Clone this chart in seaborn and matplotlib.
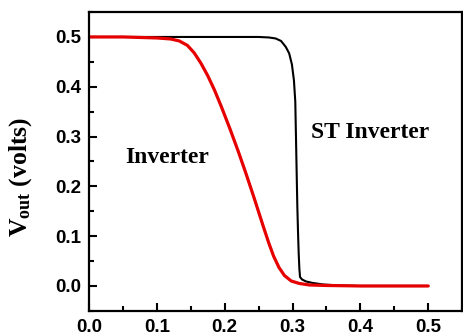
import matplotlib
matplotlib.use("Agg")
import matplotlib.pyplot as plt
from matplotlib.ticker import MultipleLocator
import seaborn as sns
import pandas as pd

# values
inv_vin = [0.00, 0.05, 0.10, 0.12, 0.133, 0.145, 0.155, 0.165, 0.175, 0.185,
           0.195, 0.207, 0.220, 0.231, 0.243, 0.256, 0.265, 0.272, 0.280,
           0.288, 0.298, 0.310, 0.325, 0.350, 0.400, 0.500]
inv_vout = [0.500, 0.500, 0.498, 0.496, 0.492, 0.483, 0.468, 0.447, 0.422, 0.393,
            0.360, 0.318, 0.270, 0.227, 0.178, 0.123, 0.086, 0.060, 0.037,
            0.021, 0.010, 0.005, 0.002, 0.001, 0.000, 0.000]

st_vin = [0.00, 0.25, 0.265, 0.275, 0.283, 0.290, 0.295, 0.299, 0.302, 0.304,
          0.305, 0.306, 0.307, 0.308, 0.309, 0.310, 0.311, 0.314, 0.320,
          0.330, 0.345, 0.37, 0.40, 0.50]
st_vout = [0.500, 0.500, 0.499, 0.497, 0.492, 0.480, 0.467, 0.445, 0.413, 0.370,
           0.300, 0.230, 0.160, 0.110, 0.066, 0.035, 0.018, 0.013, 0.009,
           0.006, 0.003, 0.001, 0.000, 0.000]

x_ticks = [0.0, 0.1, 0.2, 0.3, 0.4, 0.5]
y_ticks = [0.0, 0.1, 0.2, 0.3, 0.4, 0.5]

sns.set_style("ticks", {'axes.edgecolor': 'black', 'xtick.color': 'black',
                        'ytick.color': 'black', 'text.color': 'black',
                        'axes.labelcolor': 'black'})
plt.rcParams['font.family'] = ['Liberation Sans', 'DejaVu Sans']
plt.rcParams['mathtext.fontset'] = 'custom'
plt.rcParams['mathtext.rm'] = 'Liberation Serif:bold'
plt.rcParams['mathtext.it'] = 'Liberation Serif:bold'

inv = pd.DataFrame({'vin': inv_vin, 'vout': inv_vout})
st = pd.DataFrame({'vin': st_vin, 'vout': st_vout})

fig = plt.figure(figsize=(4.64, 3.35), dpi=100)
ax = fig.add_axes([0.192, 0.072, 0.804, 0.892])

sns.lineplot(data=st, x='vin', y='vout', color='black', linewidth=1.5, ax=ax)
sns.lineplot(data=inv, x='vin', y='vout', color='#e60000', linewidth=2.3, ax=ax)

ax.set_xlim(0, 0.55)
ax.set_ylim(-0.05, 0.55)
ax.set_xticks(x_ticks)
ax.set_yticks(y_ticks)
ax.set_xticklabels([f"{v:.1f}" for v in x_ticks], fontweight='bold', fontsize=13.5)
ax.set_yticklabels([f"{v:.1f}" for v in y_ticks], fontweight='bold', fontsize=13.5)
ax.xaxis.set_minor_locator(MultipleLocator(0.05))
ax.yaxis.set_minor_locator(MultipleLocator(0.05))
ax.tick_params(which='major', direction='in', length=6, width=1.5, pad=6)
ax.tick_params(which='minor', direction='in', length=3.5, width=1.5)
for s in ax.spines.values():
    s.set_linewidth(1.6)
    s.set_color('black')

ax.set_xlabel('')
ax.set_ylabel(r'$\mathrm{V}_{\mathrm{out}}$ (volts)', fontsize=18.5,
              family='Liberation Serif', fontweight='bold')
ax.yaxis.set_label_coords(-0.148, 0.45)

ax.text(0.053, 0.258, 'Inverter', fontsize=17, family='Liberation Serif',
        fontweight='bold', va='center', ha='left')
ax.text(0.327, 0.309, 'ST Inverter', fontsize=17, family='Liberation Serif',
        fontweight='bold', va='center', ha='left')

fig.savefig('out.png', dpi=100)
